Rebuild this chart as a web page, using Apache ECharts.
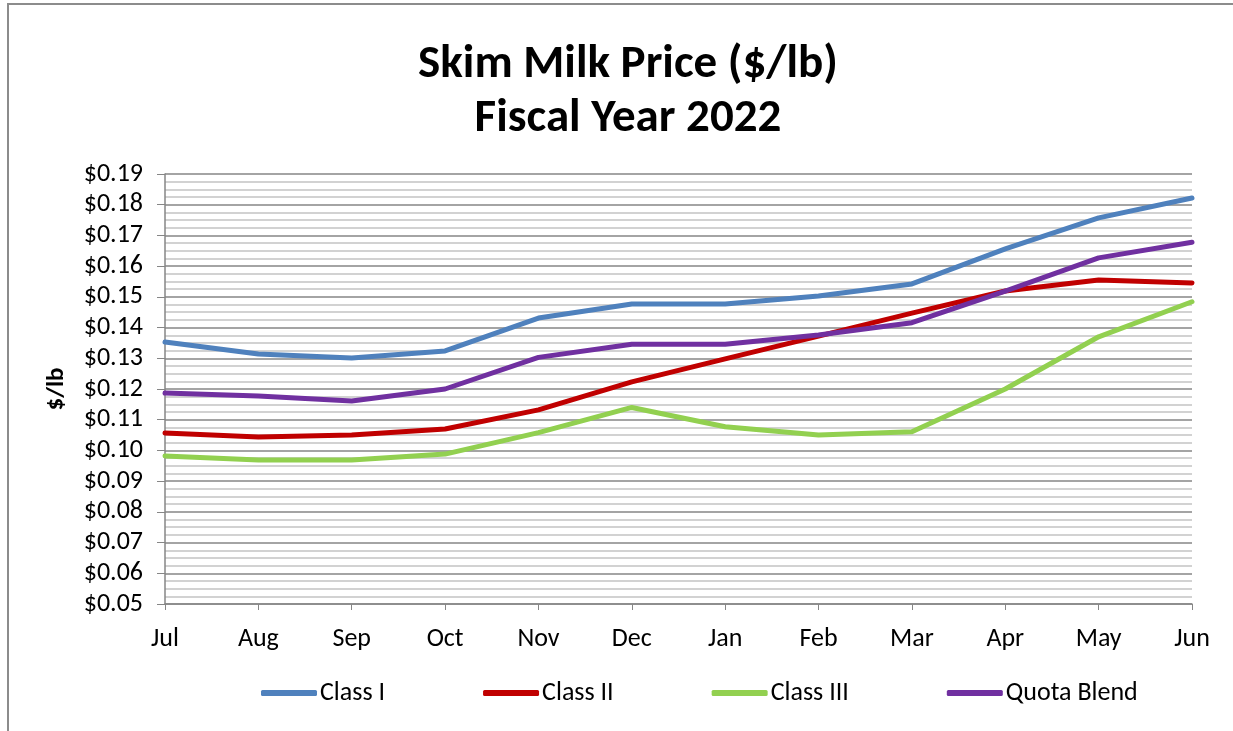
<!DOCTYPE html>
<html>
<head>
<meta charset="utf-8">
<title>Skim Milk Price</title>
<script src="https://cdn.jsdelivr.net/npm/echarts@6/dist/echarts.min.js"></script>
<style>
  html, body { margin: 0; padding: 0; background: #fff; }
  #chart { width: 1233px; height: 731px; }
</style>
</head>
<body>
<div id="chart"></div>
<script>
// data
const months = ['Jul', 'Aug', 'Sep', 'Oct', 'Nov', 'Dec', 'Jan', 'Feb', 'Mar', 'Apr', 'May', 'Jun']
const classI = [0.1353, 0.1314, 0.1301, 0.1324, 0.1431, 0.1477, 0.1477, 0.1503, 0.1542, 0.1656, 0.1757, 0.1822]
const classII = [0.1057, 0.1044, 0.1050, 0.1070, 0.1132, 0.1223, 0.1298, 0.1372, 0.1447, 0.1519, 0.1555, 0.1545]
const classIII = [0.0982, 0.0969, 0.0969, 0.0988, 0.1058, 0.1140, 0.1077, 0.1050, 0.1061, 0.1200, 0.1370, 0.1484]
const quotaBlend = [0.1187, 0.1177, 0.1161, 0.1200, 0.1303, 0.1346, 0.1346, 0.1376, 0.1416, 0.1519, 0.1627, 0.1678]

const font = 'Carlito, Lato, "Open Sans", sans-serif'

function line(name, data, color) {
  return {
    name: name,
    type: 'line',
    data: data,
    showSymbol: false,
    symbol: 'none',
    lineStyle: { width: 5, color: color, cap: 'round', join: 'round' },
    itemStyle: { color: color }
  }
}

let mychart = echarts.init(document.getElementById('chart'))
let option = {
  animation: false,
  backgroundColor: '#fff',
  textStyle: { fontFamily: font },
  title: {
    text: 'Skim Milk Price ($/lb)\nFiscal Year 2022',
    left: 623,
    textAlign: 'center',
    top: 33,
    textStyle: {
      fontFamily: font,
      fontSize: 47,
      fontWeight: 'bold',
      color: '#000',
      lineHeight: 54
    }
  },
  graphic: [
    {
      type: 'rect',
      shape: { x: 8, y: 4, width: 1400, height: 900 },
      style: { fill: 'none', stroke: '#8c8c8c', lineWidth: 2 },
      silent: true
    }
  ],
  legend: {
    top: 675,
    left: 256,
    icon: 'roundRect',
    itemWidth: 56,
    itemHeight: 6,
    itemGap: 98,
    textStyle: { fontFamily: font, fontSize: 26, color: '#000', padding: [0, 0, 0, -2] },
    data: ['Class I', 'Class II', 'Class III', 'Quota Blend']
  },
  grid: {
    left: 165,
    right: 41,
    top: 174,
    bottom: 127
  },
  xAxis: {
    type: 'category',
    data: months,
    boundaryGap: false,
    axisLine: { lineStyle: { color: '#868686', width: 1.5 } },
    axisTick: { show: true, length: 6, lineStyle: { color: '#868686' } },
    axisLabel: { color: '#000', fontSize: 26, margin: 22, fontFamily: font },
    splitLine: { show: false }
  },
  yAxis: {
    type: 'value',
    name: '$/lb',
    nameLocation: 'middle',
    nameGap: 96,
    nameRotate: 90,
    nameTextStyle: { fontFamily: font, fontSize: 25, fontWeight: 'bold', color: '#000' },
    min: 0.05,
    max: 0.19,
    interval: 0.01,
    axisLine: { show: true, lineStyle: { color: '#868686', width: 1.5 } },
    axisTick: { show: true, length: 8, lineStyle: { color: '#868686' } },
    axisLabel: {
      color: '#000',
      fontSize: 26,
      margin: 22,
      fontFamily: font,
      formatter: function (v) { return '$' + v.toFixed(2) }
    },
    splitLine: { show: true, lineStyle: { color: '#868686', width: 1.5 } },
    minorTick: { show: false, splitNumber: 4 },
    minorSplitLine: { show: true, lineStyle: { color: '#c4c4c4', width: 1.5 } }
  },
  series: [
    line('Class I', classI, '#4f81bd'),
    line('Class II', classII, '#c00000'),
    line('Class III', classIII, '#92d050'),
    line('Quota Blend', quotaBlend, '#7030a0')
  ]
}
mychart.setOption(option)
</script>
</body>
</html>
